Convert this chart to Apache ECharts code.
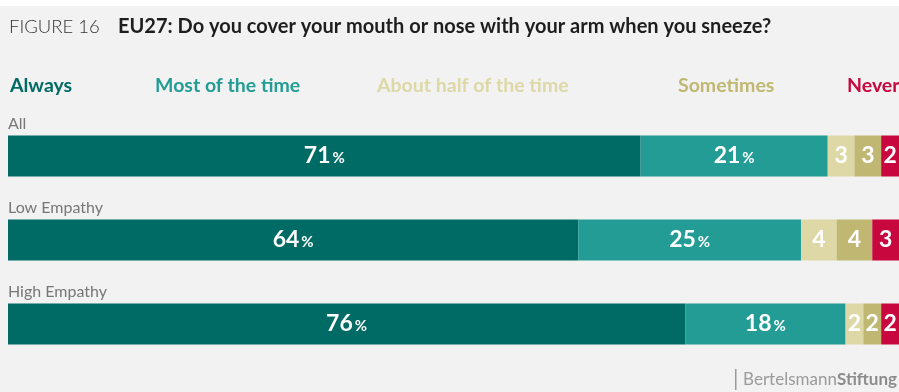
<!DOCTYPE html>
<html>
<head>
<meta charset="utf-8">
<script src="https://cdn.jsdelivr.net/npm/echarts@6/dist/echarts.min.js"></script>
<style>
	html, body { margin: 0; padding: 0; background: #ffffff; }
	#chart { width: 899px; height: 392px; }
</style>
</head>
<body>
<div id="chart"></div>
<script>
// Groups, top to bottom
const groups = [ 'All', 'Low Empathy', 'High Empathy' ];

// Answer shares in percent, one array per answer, in group order
const always = [ 71, 64, 76 ];
const mostOfTheTime = [ 21, 25, 18 ];
const aboutHalf = [ 3, 4, 2 ];
const sometimes = [ 3, 4, 2 ];
const never = [ 2, 3, 2 ];

const answerNames = [ 'Always', 'Most of the time', 'About half of the time', 'Sometimes', 'Never' ];
const answerColors = [ '#006a64', '#249c96', '#ddd8a6', '#c0b872', '#c8073f' ];
const answerValues = [ always, mostOfTheTime, aboutHalf, sometimes, never ];

// Where each legend entry starts (px from the left, legend padding included)
const legendLefts = [ 0, 145, 367, 668, 837 ];

const font = 'Lato, "Noto Sans", sans-serif';

const chart = echarts.init( document.getElementById( 'chart' ) );

const series = answerNames.map( ( name, i ) => ( {
	name: name,
	type: 'bar',
	stack: 'total',
	barWidth: 41,
	data: answerValues[ i ],
	itemStyle: { color: answerColors[ i ] },
	silent: true,
	label: {
		show: true,
		position: 'inside',
		fontFamily: font,
		formatter: ( p ) => p.value >= 10 ? `{v|${ p.value }}{p|%}` : `{v|${ p.value }}`,
		rich: {
			v: { color: '#ffffff', fontSize: 23, fontWeight: 'bold', fontFamily: font },
			p: { color: '#ffffff', fontSize: 15, fontWeight: 'bold', fontFamily: font, padding: [ 5, 0, 0, 2 ] }
		}
	}
} ) );

const legends = answerNames.map( ( name, i ) => ( {
	left: legendLefts[ i ],
	top: 71,
	icon: 'none',
	itemWidth: 0,
	itemGap: 0,
	selectedMode: false,
	data: [ name ],
	textStyle: {
		color: answerColors[ i ],
		fontSize: 19.5,
		fontWeight: 'bold',
		fontFamily: font
	}
} ) );

chart.setOption( {
	animation: false,
	backgroundColor: '#ffffff',
	graphic: [
		{
			type: 'rect',
			z: -10,
			left: 0,
			top: 6,
			shape: { width: 899, height: 386 },
			style: { fill: '#f1f2f1' }
		},
		{
			type: 'text',
			left: 9,
			top: 18,
			style: { text: 'FIGURE 16', fontSize: 18.5, fontWeight: 300, fontFamily: font, fill: '#333333' }
		},
		{
			type: 'text',
			left: 118,
			top: 17,
			style: {
				text: 'EU27: Do you cover your mouth or nose with your arm when you sneeze?',
				fontSize: 20,
				fontWeight: 'bold',
				fontFamily: font,
				fill: '#1e1e1e'
			}
		},
		{
			type: 'rect',
			left: 735,
			top: 369,
			shape: { width: 1.5, height: 21 },
			style: { fill: '#999999' }
		},
		{
			type: 'text',
			right: 2,
			top: 371,
			style: {
				text: '{a|Bertelsmann}{b|Stiftung}',
				rich: {
					a: { fontSize: 17, fontFamily: font, fill: '#9a9a9a' },
					b: { fontSize: 17, fontFamily: font, fontWeight: 'bold', fill: '#8c8c8c' }
				}
			}
		}
	],
	legend: legends,
	grid: { left: 8, right: 0, top: 114, bottom: 26, containLabel: false },
	xAxis: {
		type: 'value',
		min: 0,
		max: 100,
		show: false
	},
	yAxis: {
		type: 'category',
		inverse: true,
		data: groups,
		axisLine: { show: false },
		axisTick: { show: false },
		splitLine: { show: false },
		axisLabel: {
			inside: true,
			align: 'left',
			verticalAlign: 'bottom',
			padding: [ 0, 0, 24, 0 ],
			margin: 0,
			color: '#777777',
			fontSize: 16,
			fontFamily: font
		}
	},
	series: series
} );
</script>
</body>
</html>
